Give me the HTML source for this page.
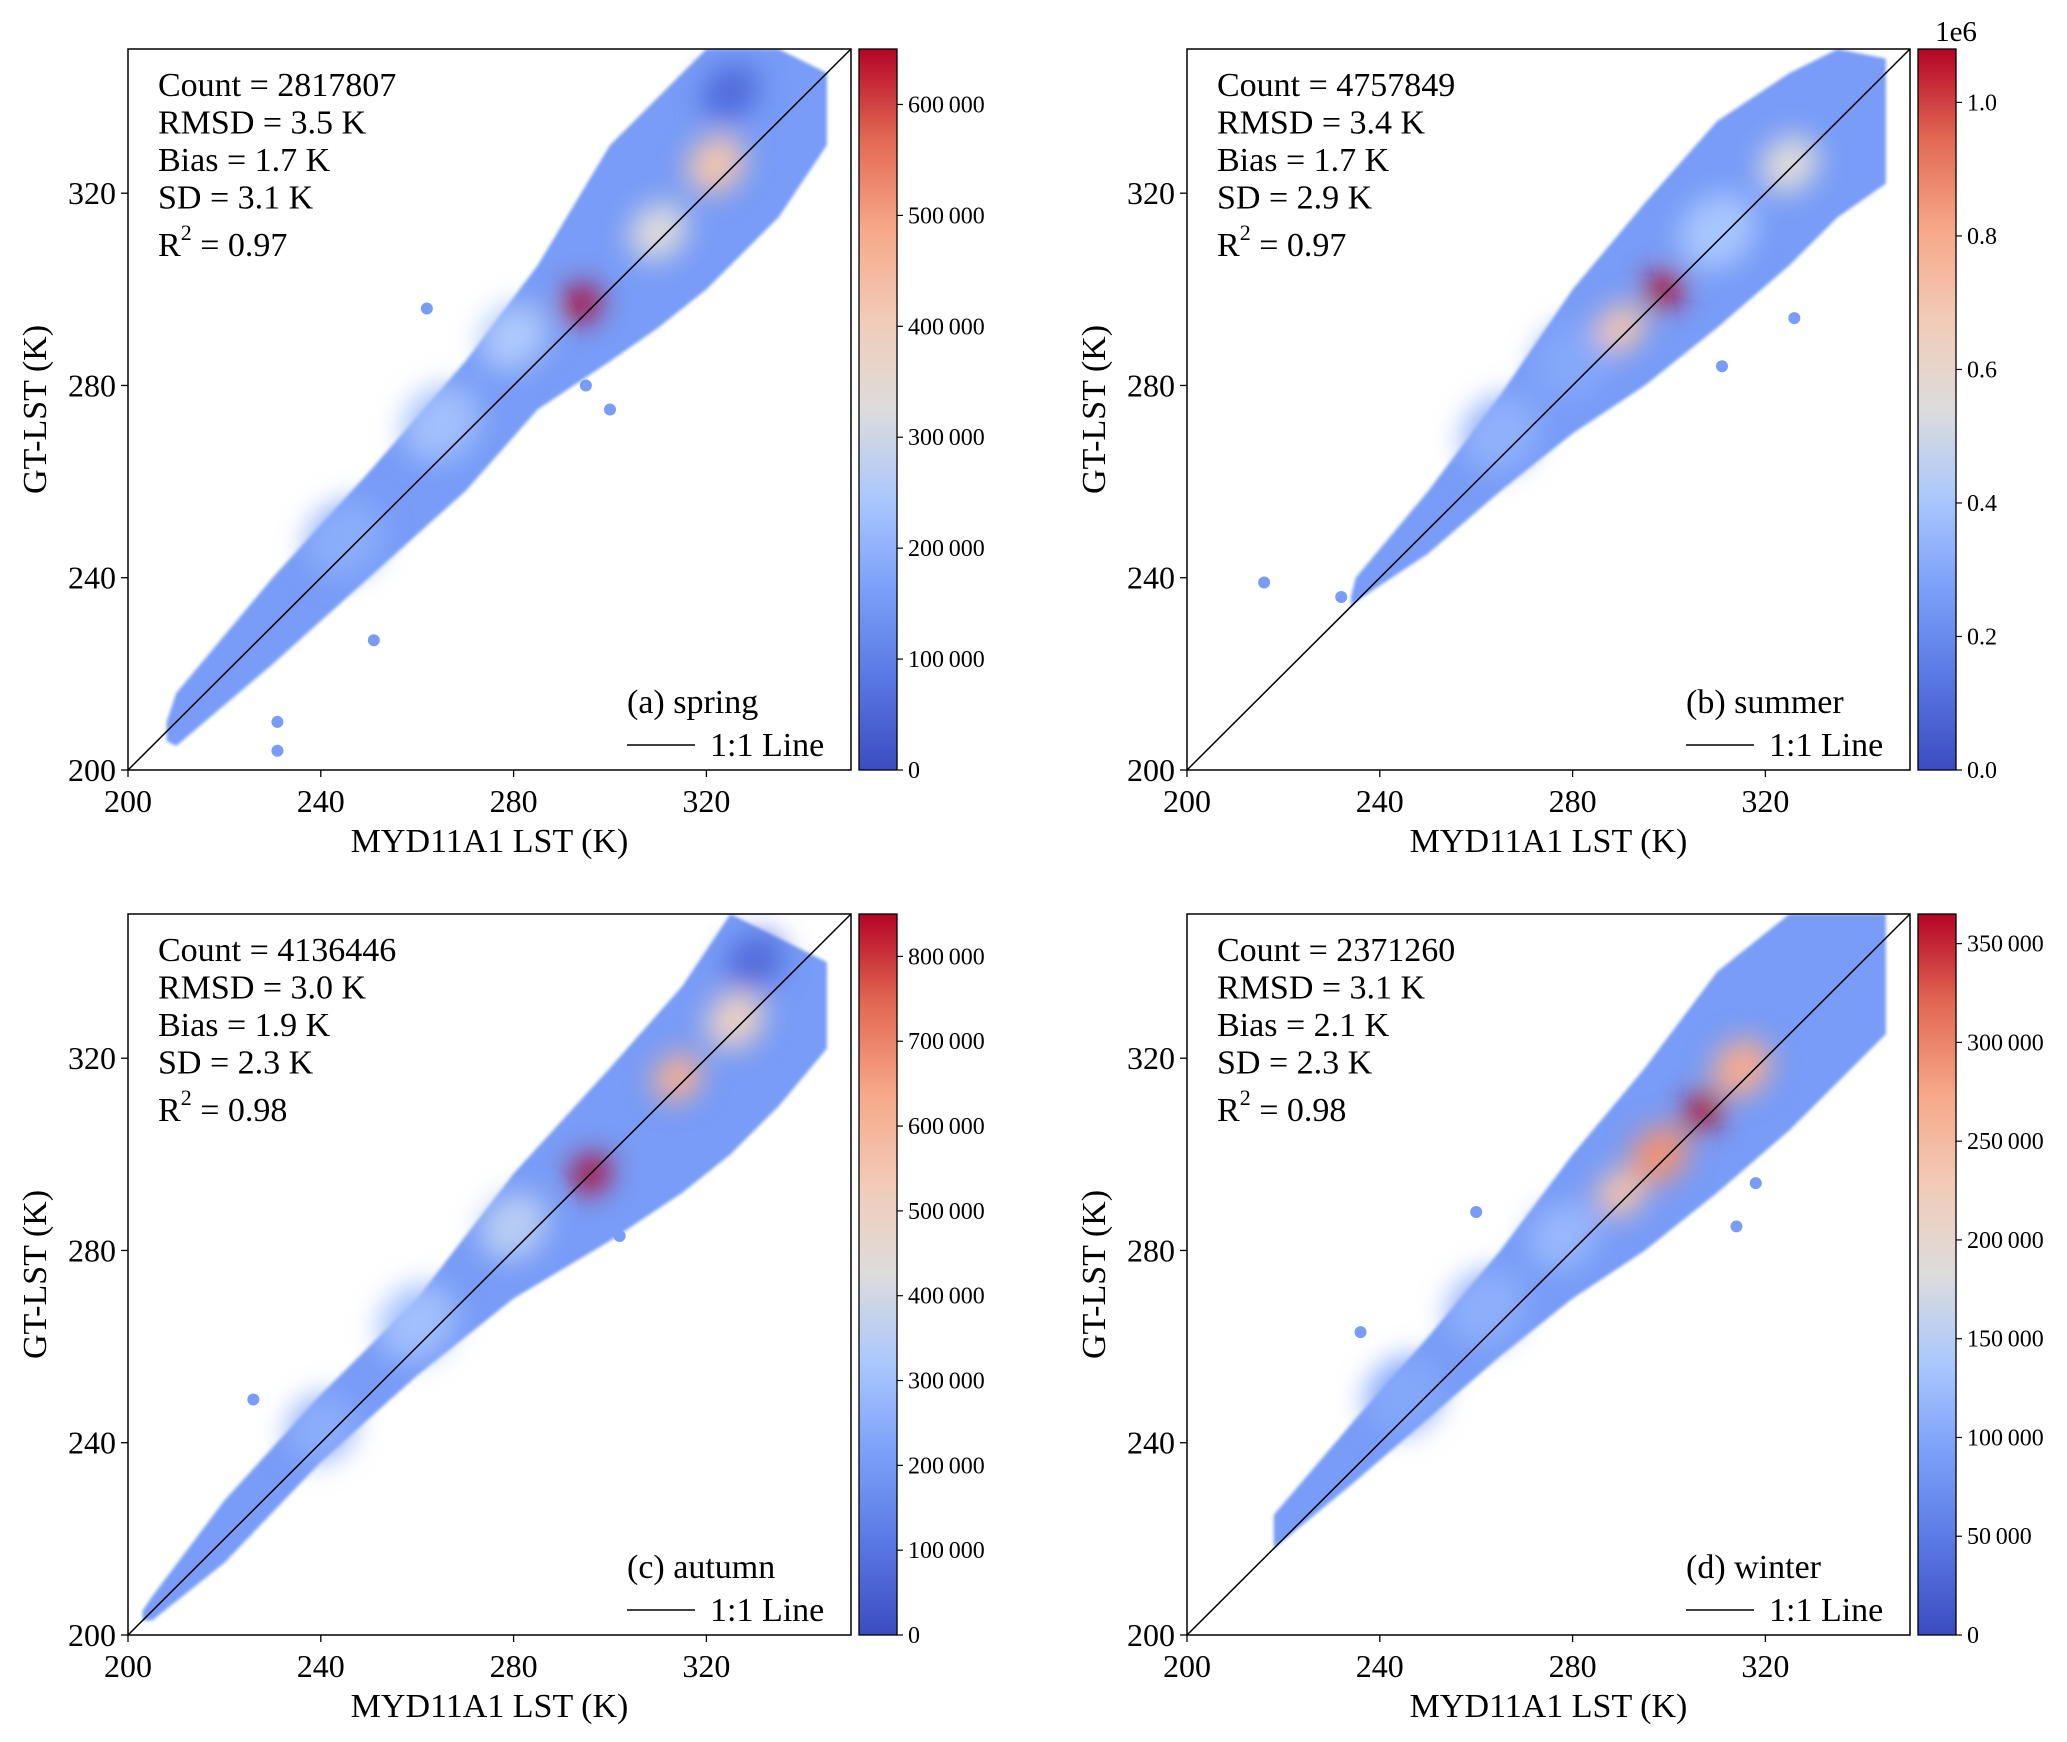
<!DOCTYPE html>
<html><head><meta charset="utf-8">
<style>
html,body{margin:0;padding:0;background:#fff;}
svg{display:block;}
svg text{font-family:"Liberation Serif","DejaVu Serif",serif;}
</style></head>
<body>
<svg id="fig" width="2067" height="1742" viewBox="0 0 2067 1742" xmlns="http://www.w3.org/2000/svg" font-family="Liberation Serif, serif">
<defs>
<filter id="blurS" x="-20%" y="-20%" width="140%" height="140%"><feGaussianBlur stdDeviation="1.5"/></filter>
<filter id="blurL" x="-50%" y="-50%" width="200%" height="200%"><feGaussianBlur stdDeviation="14"/></filter>
<linearGradient id="cmapGrad" x1="0" y1="1" x2="0" y2="0">
<stop offset="0" stop-color="#3b4cc0"/><stop offset="0.125" stop-color="#5977e3"/><stop offset="0.25" stop-color="#7b9ff9"/><stop offset="0.375" stop-color="#aac7fd"/><stop offset="0.5" stop-color="#dddcdc"/><stop offset="0.625" stop-color="#f2cbb7"/><stop offset="0.75" stop-color="#f7a889"/><stop offset="0.875" stop-color="#e26952"/><stop offset="1" stop-color="#b40426"/>
</linearGradient>
</defs>
</svg>
<script>
// ---- data: spring ----
const springEdgeX=[208,210,230,250,270,285,300,310,320,335,345];
const springUpper=[210,216,240,262,285,305,330,340,350,350,345];
const springLower=[206,205,222,240,258,275,285,292,300,315,330];
const springHotX=[245,265,280,325,310,322,294];
const springHotY=[248,272,290,341,312,326,297];
const springHotR=[8,8,7,6,6,6,4];
const springHotVal=[190000,230000,250000,60000,330000,420000,650000];
const springOutX=[231,231,251,215,300,295,262];
const springOutY=[204,210,227,212,275,280,296];
const springTicks=[0,100000,200000,300000,400000,500000,600000];
const springMax=650000;
// ---- data: summer ----
const summerEdgeX=[234,235,250,265,280,295,310,325,335,345];
const summerUpper=[236,240,258,278,300,318,335,345,350,348];
const summerLower=[234,235,245,258,270,280,292,305,315,322];
const summerHotX=[265,280,310,325,290,299];
const summerHotY=[270,285,312,326,292,300];
const summerHotR=[8,8,8,6,5,4];
const summerHotVal=[0.33,0.30,0.40,0.55,0.70,1.08];
const summerOutX=[216,232,311,326];
const summerOutY=[239,236,284,294];
const summerTicks=[0,0.2,0.4,0.6,0.8,1.0];
const summerMax=1.08;
// ---- data: autumn ----
const autumnEdgeX=[203,205,220,240,260,280,300,315,325,335,345];
const autumnUpper=[205,208,228,250,270,296,318,335,350,345,340];
const autumnLower=[203,203,215,236,254,270,282,292,300,310,322];
const autumnHotX=[240,260,280,330,326,314,296];
const autumnHotY=[243,265,285,340,328,316,296];
const autumnHotR=[7,8,7,6,6,5,4];
const autumnHotVal=[250000,300000,350000,80000,500000,620000,850000];
const autumnOutX=[226,302];
const autumnOutY=[249,283];
const autumnTicks=[0,100000,200000,300000,400000,500000,600000,700000,800000];
const autumnMax=850000;
// ---- data: winter ----
const winterEdgeX=[218,235,250,265,280,295,310,325,335,345];
const winterUpper=[225,245,262,280,300,318,338,350,350,350];
const winterLower=[218,232,245,258,270,280,292,305,315,325];
const winterHotX=[245,262,278,315,290,298,307];
const winterHotY=[250,268,283,318,292,300,309];
const winterHotR=[8,8,7,6,5,6,4];
const winterHotVal=[100000,110000,120000,270000,240000,290000,365000];
const winterOutX=[236,260,314,318];
const winterOutY=[263,288,285,294];
const winterTicks=[0,50000,100000,150000,200000,250000,300000,350000];
const winterMax=365000;

const NS="http://www.w3.org/2000/svg";
const svg=document.getElementById('fig');
function mk(tag,attrs,parent){const e=document.createElementNS(NS,tag);for(const k in attrs)e.setAttribute(k,attrs[k]);(parent||svg).appendChild(e);return e;}
const cstops=[[0,[59,76,192]],[0.125,[89,119,227]],[0.25,[123,159,249]],[0.375,[170,199,253]],[0.5,[221,220,220]],[0.625,[242,203,183]],[0.75,[247,168,137]],[0.875,[226,105,82]],[1,[180,4,38]]];
function cmap(t){t=Math.max(0,Math.min(1,t));for(let i=1;i<cstops.length;i++){if(t<=cstops[i][0]){const a=cstops[i-1],b=cstops[i];const f=(t-a[0])/(b[0]-a[0]);const c=a[1].map((v,j)=>Math.round(v+(b[1][j]-v)*f));return `rgb(${c[0]},${c[1]},${c[2]})`;}}return 'rgb(180,4,38)';}
function fmt(v,dec){if(dec)return v.toFixed(1);return String(v).replace(/\B(?=(\d{3})+(?!\d))/g,'\u2009');}
const FF='Liberation Serif, DejaVu Serif, serif';

const panels=[
 {key:'spring',L:128,T:49,label:'(a) spring',stats:['Count = 2817807','RMSD = 3.5 K','Bias = 1.7 K','SD = 3.1 K'],r2:'0.97',d:[springEdgeX,springUpper,springLower,springHotX,springHotY,springHotR,springHotVal,springOutX,springOutY,springTicks,springMax],dec:false,exp:false},
 {key:'summer',L:1187,T:49,label:'(b) summer',stats:['Count = 4757849','RMSD = 3.4 K','Bias = 1.7 K','SD = 2.9 K'],r2:'0.97',d:[summerEdgeX,summerUpper,summerLower,summerHotX,summerHotY,summerHotR,summerHotVal,summerOutX,summerOutY,summerTicks,summerMax],dec:true,exp:true},
 {key:'autumn',L:128,T:914,label:'(c) autumn',stats:['Count = 4136446','RMSD = 3.0 K','Bias = 1.9 K','SD = 2.3 K'],r2:'0.98',d:[autumnEdgeX,autumnUpper,autumnLower,autumnHotX,autumnHotY,autumnHotR,autumnHotVal,autumnOutX,autumnOutY,autumnTicks,autumnMax],dec:false,exp:false},
 {key:'winter',L:1187,T:914,label:'(d) winter',stats:['Count = 2371260','RMSD = 3.1 K','Bias = 2.1 K','SD = 2.3 K'],r2:'0.98',d:[winterEdgeX,winterUpper,winterLower,winterHotX,winterHotY,winterHotR,winterHotVal,winterOutX,winterOutY,winterTicks,winterMax],dec:false,exp:false}
];
const W=723,H=721,KMIN=200,KMAX=350;
panels.forEach(p=>{
 const [ex,up,lo,hx,hy,hr,hv,ox,oy,ticks,vmax]=p.d;
 const sx=v=>p.L+(v-KMIN)/(KMAX-KMIN)*W;
 const sy=v=>p.T+H-(v-KMIN)/(KMAX-KMIN)*H;
 const pxK=W/(KMAX-KMIN);
 const g=mk('g',{'font-family':FF});
 
 
 const cid='clip-'+p.key;
 const cp=mk('clipPath',{id:cid},g);mk('rect',{x:p.L,y:p.T,width:W,height:H},cp);
 const plot=mk('g',{'clip-path':`url(#${cid})`},g);
 
 
 let pts=ex.map((x,i)=>`${sx(x)},${sy(up[i])}`);
 for(let i=ex.length-1;i>=0;i--)pts.push(`${sx(ex[i])},${sy(lo[i])}`);
 const env=mk('polygon',{points:pts.join(' '),fill:cmap(0.24),filter:'url(#blurS)'},plot);
 
 
 const hg=mk('g',{filter:'url(#blurL)'},plot);
 hx.forEach((x,i)=>{
  const e=mk('ellipse',{cx:sx(x),cy:sy(hy[i]),rx:hr[i]*pxK*1.1,ry:hr[i]*pxK*0.9,fill:cmap(hv[i]/vmax),transform:`rotate(-45 ${sx(x)} ${sy(hy[i])})`},hg);
  
  
 });
 ox.forEach((x,i)=>{
  const c=mk('circle',{cx:sx(x),cy:sy(oy[i]),r:6,fill:cmap(0.24)},plot);
  
  
 });
 const ln=mk('line',{x1:sx(200),y1:sy(200),x2:sx(350),y2:sy(350),stroke:'#000','stroke-width':1.5},plot);
 
 
 const fr=mk('rect',{x:p.L,y:p.T,width:W,height:H,fill:'none',stroke:'#000','stroke-width':1.5},g);
 
 
 [200,240,280,320].forEach(v=>{
  mk('line',{x1:sx(v),y1:p.T+H,x2:sx(v),y2:p.T+H+7,stroke:'#000','stroke-width':1.3},g);
  const t=mk('text',{x:sx(v),y:p.T+H+42,'font-size':32,'text-anchor':'middle','font-family':FF},g);t.textContent=v;
  
  
  mk('line',{x1:p.L-7,y1:sy(v),x2:p.L,y2:sy(v),stroke:'#000','stroke-width':1.3},g);
  const t2=mk('text',{x:p.L-12,y:sy(v)+11,'font-size':32,'text-anchor':'end','font-family':FF},g);t2.textContent=v;
  
  
 });
 const xl=mk('text',{x:p.L+W/2,y:p.T+H+82,'font-size':34,'text-anchor':'middle','font-family':FF},g);xl.textContent='MYD11A1 LST (K)';
 
 
 const yl=mk('text',{x:0,y:0,'font-size':34,'text-anchor':'middle','font-family':FF,transform:`translate(${p.L-82},${p.T+H/2}) rotate(-90)`},g);yl.textContent='GT-LST (K)';
 
 
 p.stats.forEach((s,i)=>{
  const t=mk('text',{x:p.L+30,y:p.T+47+i*37.5,'font-size':34,'font-family':FF},g);t.textContent=s;
  
  
 });
 const r=mk('text',{x:p.L+30,y:p.T+207,'font-size':34,'font-family':FF},g);
 
 
 r.innerHTML=`R<tspan dy="-16" font-size="22">2</tspan><tspan dy="16"> = ${p.r2}</tspan>`;
 const lt=mk('text',{x:p.L+499,y:p.T+664,'font-size':34,'font-family':FF},g);lt.textContent=p.label;
 
 
 mk('line',{x1:p.L+499,y1:p.T+696,x2:p.L+567,y2:p.T+696,stroke:'#000','stroke-width':1.5},g);
 const l2=mk('text',{x:p.L+582,y:p.T+707,'font-size':34,'font-family':FF},g);l2.textContent='1:1 Line';
 
 
 const cbx=p.L+W+8,cbw=38;
 const cb=mk('rect',{x:cbx,y:p.T,width:cbw,height:H,fill:'url(#cmapGrad)',stroke:'#000','stroke-width':1.3},g);
 
 
 const cy=v=>p.T+H-v/vmax*H;
 ticks.forEach(v=>{
  mk('line',{x1:cbx+cbw,y1:cy(v),x2:cbx+cbw+6,y2:cy(v),stroke:'#000','stroke-width':1.2},g);
  const t=mk('text',{x:cbx+cbw+11,y:cy(v)+8,'font-size':24,'font-family':FF},g);t.textContent=fmt(v,p.dec);
  
  
 });
 if(p.exp){const t=mk('text',{x:cbx+cbw,y:p.T-8,'font-size':29,'text-anchor':'middle','font-family':FF},g);t.textContent='1e6';
  
  }
});
</script>
</body></html>
